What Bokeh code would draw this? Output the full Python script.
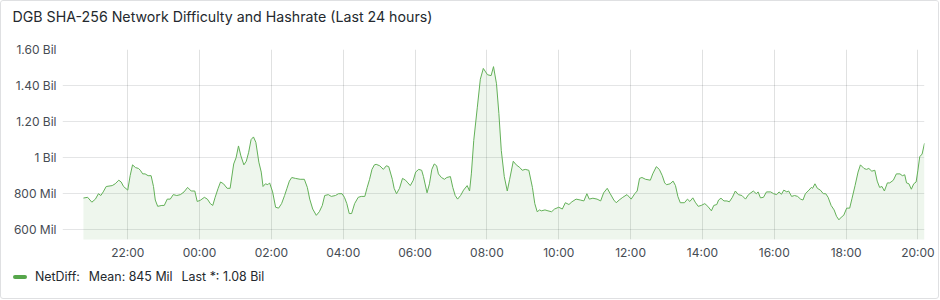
from datetime import datetime, timedelta

from bokeh.plotting import figure
from bokeh.layouts import column
from bokeh.models import Range1d, FixedTicker, DatetimeTickFormatter, ColumnDataSource, Title, Div
from bokeh.embed import file_html
from bokeh.resources import INLINE

TITLE = "DGB SHA-256 Network Difficulty and Hashrate (Last 24 hours)"
SERIES = "NetDiff"
MEAN_TXT = "845 Mil"
LAST_TXT = "1.08 Bil"

# sample times, minutes relative to 00:00 of the second day (negative = previous evening)
minutes = [
    -194, -187, -180, -174, -169, -165, -161, -156, -146, -141, -135, -131, -127, -120, -116, -112,
    -107, -102, -99, -95, -91, -86, -81, -77, -74, -70, -63, -59, -54, -49, -44, -38, -32, -26, -20,
    -14, -8, -4, 1, 8, 13, 18, 22, 26, 31, 35, 40, 46, 51, 57, 61, 65, 69, 74, 78, 82, 86, 90, 94, 99,
    103, 106, 110, 114, 117, 122, 127, 132, 137, 142, 146, 150, 154, 160, 168, 175, 180, 184, 189, 195,
    200, 205, 209, 215, 220, 227, 232, 238, 242, 246, 250, 254, 259, 265, 270, 276, 280, 284, 288, 292,
    295, 301, 307, 312, 316, 322, 325, 329, 334, 339, 344, 348, 352, 357, 361, 366, 371, 374, 380, 384,
    388, 392, 396, 399, 404, 409, 413, 419, 423, 427, 431, 436, 441, 447, 451, 454, 458, 464, 469, 474,
    477, 481, 487, 491, 496, 500, 504, 509, 514, 518, 524, 529, 535, 539, 544, 550, 556, 560, 564, 568,
    571, 577, 582, 588, 593, 600, 606, 611, 617, 622, 629, 636, 642, 647, 651, 657, 664, 670, 675, 681,
    686, 692, 696, 701, 707, 714, 721, 727, 731, 735, 739, 745, 753, 757, 763, 768, 773, 777, 780, 786,
    791, 795, 799, 803, 810, 815, 819, 824, 828, 833, 838, 844, 849, 855, 859, 864, 867, 871, 876, 881,
    885, 890, 895, 900, 906, 912, 917, 925, 930, 933, 937, 942, 947, 954, 959, 964, 968, 972, 976, 981,
    984, 989, 994, 999, 1004, 1008, 1012, 1018, 1022, 1024, 1028, 1032, 1037, 1042, 1046, 1050, 1055,
    1060, 1064, 1068, 1072, 1076, 1081, 1086, 1090, 1095, 1100, 1104, 1110, 1114, 1118, 1123, 1128,
    1132, 1136, 1140, 1144, 1149, 1153, 1159, 1164, 1170, 1174, 1178, 1181, 1185, 1189, 1193, 1197,
    1200, 1203, 1207, 1211,
]

# network difficulty, millions
net_diff_mil = [
    776, 780, 753, 770, 800, 790, 810, 840, 845, 855, 875, 865, 840, 820, 900, 960,
    945, 940, 930, 910, 910, 900, 900, 840, 765, 730, 735, 735, 770, 770, 795, 790, 795, 810, 835,
    815, 815, 757, 763, 780, 770, 745, 735, 780, 830, 865, 855, 830, 830, 965, 1000, 1065, 1010, 960, 980, 1030, 1100, 1115, 1085, 975,
    920, 840, 855, 850, 860, 810, 725, 720, 745, 790, 830, 870, 890, 885, 880, 880, 835, 770, 715, 680,
    700, 735, 790, 795, 785, 790, 800, 800, 780, 745, 690, 690, 745, 780, 785, 785, 835, 880, 935, 960,
    963, 955, 935, 955, 950, 880, 830, 800, 830, 885, 875, 860, 845, 875, 920, 935, 930, 895, 805, 855,
    935, 965, 955, 910, 890, 880, 890, 895, 835, 790, 770, 790, 820, 845, 815, 910, 1095, 1280, 1435, 1495,
    1480, 1460, 1455, 1505, 1410, 1245, 1040, 895, 815, 880, 980, 960, 945, 930, 935, 930, 835, 745, 700, 710,
    705, 710, 705, 700, 715, 725, 715, 750, 740, 755, 770, 765, 760, 800, 770, 775, 770, 760, 805, 830,
    800, 765, 750, 765, 780, 795, 770, 800, 815, 885, 890, 880, 875, 910, 950, 935, 900, 860, 850, 855,
    870, 845, 785, 750, 750, 770, 757, 777, 753, 730, 735, 745, 730, 705, 735, 740, 765, 775, 760, 760,
    755, 780, 815, 795, 790, 770, 795, 815, 800, 810, 777, 780, 810, 810, 800, 795, 810, 797, 820, 810,
    815, 785, 790, 785, 770, 765, 800, 820, 835, 830, 855, 830, 820, 800, 800, 780, 735,
    710, 675, 655, 670, 680, 720, 720, 775, 845, 920, 960, 940, 935, 940, 925, 930,
    870, 835, 840, 815, 860, 860, 875, 910, 910, 900, 905, 860, 855, 825, 855, 865,
    930, 1005, 1020, 1080,
]

y_ticks_mil = [600, 800, 1000, 1200, 1400, 1600]
y_tick_labels = ["600 Mil", "800 Mil", "1 Bil", "1.20 Bil", "1.40 Bil", "1.60 Bil"]
x_tick_hours = [-2, 0, 2, 4, 6, 8, 10, 12, 14, 16, 18, 20]
window_end_min = 1211
window_len_min = 24 * 60
y_min_mil, y_max_mil = 546, 1600

GREEN = "#56A64B"
LINE_GREEN = "#63B058"
TEXT = "#24292e"
TICK_TEXT = "#464c54"
FONT = "Inter"

base = datetime(2024, 5, 2)
epoch = datetime(1970, 1, 1)
xs = [base + timedelta(minutes=m) for m in minutes]
src = ColumnDataSource(dict(x=xs, y=net_diff_mil))

p = figure(
    width=937, height=262,
    x_axis_type="datetime",
    x_range=Range1d(base + timedelta(minutes=window_end_min - window_len_min), base + timedelta(minutes=window_end_min)),
    y_range=Range1d(y_min_mil, y_max_mil),
    output_backend="svg", toolbar_location=None,
    min_border_left=61, min_border_right=14, min_border_top=48, min_border_bottom=24,
)
p.outline_line_color = None
p.background_fill_color = "white"
p.border_fill_color = "white"

# spacer between frame and the title (stacked nearest the frame)
p.add_layout(Title(text="\u00a0", text_font_size="1px", standoff=22), "above")
p.title.text = TITLE
p.title.text_font = FONT
p.title.text_font_size = "14.2px"
p.title.text_font_style = "normal"
p.title.text_color = TEXT
p.title.align = "left"
p.title.offset = -50
p.title.standoff = 0

p.varea(x="x", y1=0, y2="y", source=src, fill_color=GREEN, fill_alpha=0.1)
p.line(x="x", y="y", source=src, line_color=LINE_GREEN, line_width=1)

# axes
xa = p.xaxis[0]
xa.ticker = FixedTicker(ticks=[((base + timedelta(hours=h)) - epoch).total_seconds() * 1000 for h in x_tick_hours])
xa.formatter = DatetimeTickFormatter(hours="%H:%M", hourmin="%H:%M", minutes="%H:%M", minsec="%H:%M",
                                     days="%H:%M", months="%H:%M", years="%H:%M")
ya = p.yaxis[0]
ya.ticker = FixedTicker(ticks=y_ticks_mil)
ya.major_label_overrides = {t: l for t, l in zip(y_ticks_mil, y_tick_labels)}
for ax in (xa, ya):
    ax.axis_line_color = None
    ax.major_tick_line_color = None
    ax.minor_tick_line_color = None
    ax.major_tick_out = 0
    ax.major_tick_in = 0
    ax.minor_tick_out = 0
    ax.minor_tick_in = 0
    ax.major_label_text_font = FONT
    ax.major_label_text_font_size = "12px"
    ax.major_label_text_color = TICK_TEXT
xa.major_label_standoff = 5
ya.major_label_standoff = 6

p.xgrid.grid_line_color = TEXT
p.xgrid.grid_line_alpha = 0.14
p.ygrid.grid_line_color = TEXT
p.ygrid.grid_line_alpha = 0.12

# legend strip below the plot
legend_html = (
    f'<div style="display:flex;align-items:center;height:28px;padding-left:12px;'
    f'font-family:{FONT};font-size:12.4px;color:{TEXT};white-space:nowrap;">'
    f'<span style="display:inline-block;width:14px;height:4px;border-radius:2px;'
    f'background:{GREEN};margin-right:8px;"></span>'
    f'<span>{SERIES}:</span>'
    f'<span style="margin-left:9px;">Mean: {MEAN_TXT}</span>'
    f'<span style="margin-left:9px;">Last *: {LAST_TXT}</span>'
    f'</div>'
)
legend_div = Div(text=legend_html, width=937, height=35, margin=0)

layout = column(p, legend_div, spacing=0)
layout.styles = {"border": "1px solid #dfe0e2", "border-radius": "3px", "background": "white"}

open("out.html", "w").write(file_html(layout, INLINE))
